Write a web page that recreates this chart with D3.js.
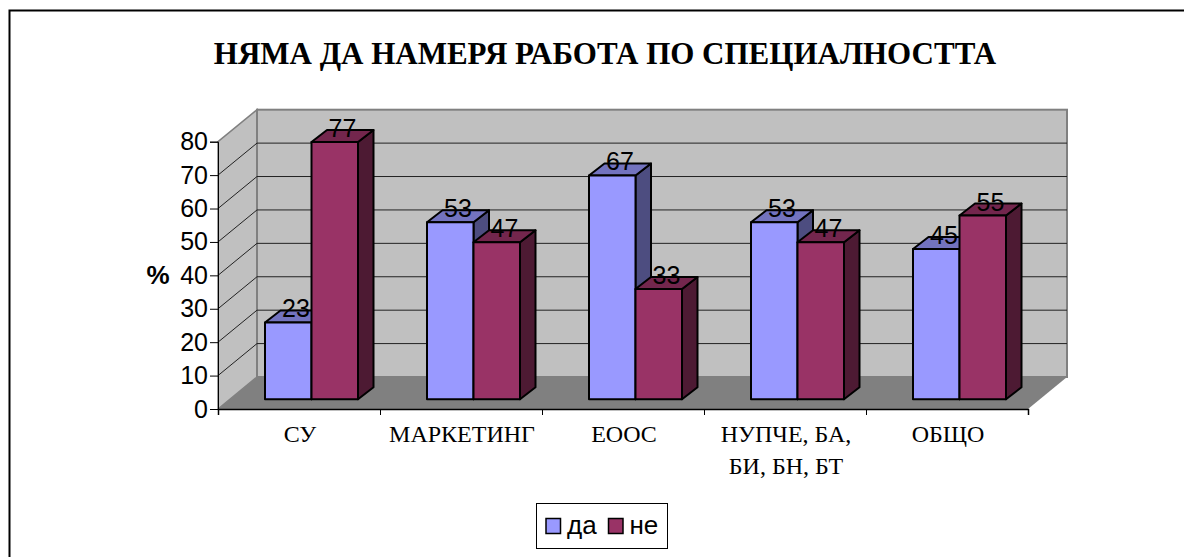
<!DOCTYPE html>
<html>
<head>
<meta charset="utf-8">
<script src="https://cdn.jsdelivr.net/npm/d3@7"></script>
<style>
  html, body { margin: 0; padding: 0; background: #fff; }
  svg { display: block; }
</style>
</head>
<body>
<svg id="canvas"></svg>
<script>
let width = 1184
let height = 557

let categories = [['СУ'], ['МАРКЕТИНГ'], ['ЕООС'], ['НУПЧЕ, БА,', 'БИ, БН, БТ'], ['ОБЩО']]
let seriesNames = ['да', 'не']
let da = [23, 53, 67, 53, 45]
let ne = [77, 47, 33, 47, 55]
let yTicks = [0, 10, 20, 30, 40, 50, 60, 70, 80]

let sans = '"Liberation Sans", Arial, sans-serif'
let serif = '"Liberation Serif", "Times New Roman", serif'

// front / face colours, then top and side of the boxes
let face = { 'да': '#9999ff', 'не': '#993366' }
let top_ = { 'да': '#7373bf', 'не': '#73264d' }
let side = { 'да': '#4d4d80', 'не': '#4d1a33' }

let canvas = d3.select('#canvas').attr('width', width).attr('height', height)

/* frame, only left and top are inside the picture */
canvas.append('path')
  .attr('d', 'M9.5,557V10.5H1184')
  .attr('fill', 'none').attr('stroke', '#000').attr('stroke-width', 2)

canvas.append('text').attr('x', 605).attr('y', 64)
  .attr('text-anchor', 'middle')
  .style('font', 'bold 31px ' + serif)
  .text('НЯМА ДА НАМЕРЯ РАБОТА ПО СПЕЦИАЛНОСТТА')

/* scales: the front plane of the floor, the wall is the same thing moved by the depth */
let xScale = d3.scaleBand().domain(d3.range(categories.length)).range([218, 1028])
let yScale = d3.scaleLinear().domain([0, 80]).range([409, 141.7])
let wallDx = 39
let wallDy = -32
let barDx = 15.5
let barDy = -12
let baseDy = -9.7
let innerX = d3.scaleBand().domain(seriesNames).range([47, 140])

/* walls and floor */
let y0 = yScale(0), y80 = yScale(80)
canvas.append('path')
  .attr('d', `M218,${y0}L218,${y80}L${218 + wallDx},${y80 + wallDy}L${218 + wallDx},${y0 + wallDy}Z`)
  .attr('fill', '#c0c0c0').attr('stroke', '#808080').attr('stroke-width', 1.5)
canvas.append('rect')
  .attr('x', 218 + wallDx).attr('y', y80 + wallDy)
  .attr('width', 1028 - 218).attr('height', y0 - y80)
  .attr('fill', '#c0c0c0').attr('stroke', '#808080').attr('stroke-width', 2)
canvas.append('path')
  .attr('d', `M218,${y0}L${218 + wallDx},${y0 + wallDy}H${1028 + wallDx}L1028,${y0}Z`)
  .attr('fill', '#808080')

/* gridlines */
yTicks.slice(1, -1).forEach((t) => {
  let y = yScale(t)
  canvas.append('path')
    .attr('d', `M218,${y}L${218 + wallDx},${y + wallDy}H${1028 + wallDx}`)
    .attr('fill', 'none').attr('stroke', '#222').attr('stroke-width', 1)
})

/* axes */
let xAxis = d3.axisBottom(d3.scaleLinear().domain([0, categories.length]).range([218, 1028]))
  .tickValues(d3.range(categories.length + 1)).tickSize(6).tickFormat('')
canvas.append('g').attr('transform', `translate(0,${y0})`).call(xAxis)
  .select('.domain').attr('stroke', '#000').attr('stroke-width', 1.5)

let yAxis = d3.axisLeft(yScale).tickValues(yTicks).tickSize(8).tickPadding(2)
let yG = canvas.append('g').attr('transform', 'translate(218,0)').call(yAxis)
yG.select('.domain').attr('stroke', '#000')
yG.selectAll('text').style('font', '25px ' + sans).attr('fill', '#000')

/* boxes */
function box(g, name, value, i) {
  let x0 = xScale(i) + innerX(name)
  let x1 = x0 + innerX.bandwidth()
  let yb = y0 + baseDy
  let yt = yScale(value) + baseDy
  g.append('path')
    .attr('d', `M${x1},${yt}L${x1 + barDx},${yt + barDy}V${yb + barDy}L${x1},${yb}Z`)
    .attr('fill', side[name])
  g.append('path')
    .attr('d', `M${x0},${yt}L${x0 + barDx},${yt + barDy}H${x1 + barDx}L${x1},${yt}Z`)
    .attr('fill', top_[name])
  g.append('rect')
    .attr('x', x0).attr('y', yt).attr('width', x1 - x0).attr('height', yb - yt)
    .attr('fill', face[name])
  g.selectAll('path,rect').attr('stroke', '#000').attr('stroke-width', 2).attr('stroke-linejoin', 'round')
}

let barsG = canvas.append('g')
categories.forEach((c, i) => {
  box(barsG.append('g'), 'да', da[i], i)
  box(barsG.append('g'), 'не', ne[i], i)
})

/* value labels sit over the box tops */
let labelsG = canvas.append('g')
categories.forEach((c, i) => {
  seriesNames.forEach((name) => {
    let v = name === 'да' ? da[i] : ne[i]
    labelsG.append('text')
      .attr('x', xScale(i) + innerX(name) + innerX.bandwidth() / 2 + barDx / 2)
      .attr('y', yScale(v) + baseDy - 5)
      .attr('text-anchor', 'middle')
      .style('font', '25px ' + sans)
      .text(v)
  })
})

/* category labels */
categories.forEach((lines, i) => {
  lines.forEach((line, j) => {
    canvas.append('text')
      .attr('x', xScale(i) + xScale.bandwidth() / 2 + 1)
      .attr('y', 442 + j * 32)
      .attr('text-anchor', 'middle')
      .style('font', '24px ' + serif)
      .text(line)
  })
})

canvas.append('text').attr('x', 158).attr('y', 284)
  .attr('text-anchor', 'middle')
  .style('font', 'bold 26px ' + sans).text('%')

/* legend */
let legend = canvas.append('g').attr('transform', 'translate(536.5,503.5)')
legend.append('rect').attr('width', 131).attr('height', 45)
  .attr('fill', '#fff').attr('stroke', '#000').attr('stroke-width', 1)
let legendX = d3.scaleOrdinal().domain(seriesNames).range([9.5, 72])
seriesNames.forEach((name) => {
  legend.append('rect').attr('x', legendX(name)).attr('y', 15).attr('width', 14.5).attr('height', 15)
    .attr('fill', face[name]).attr('stroke', '#000').attr('stroke-width', 1.5)
  legend.append('text').attr('x', legendX(name) + 21).attr('y', 30)
    .style('font', '26px ' + sans).text(name)
})
</script>
</body>
</html>
